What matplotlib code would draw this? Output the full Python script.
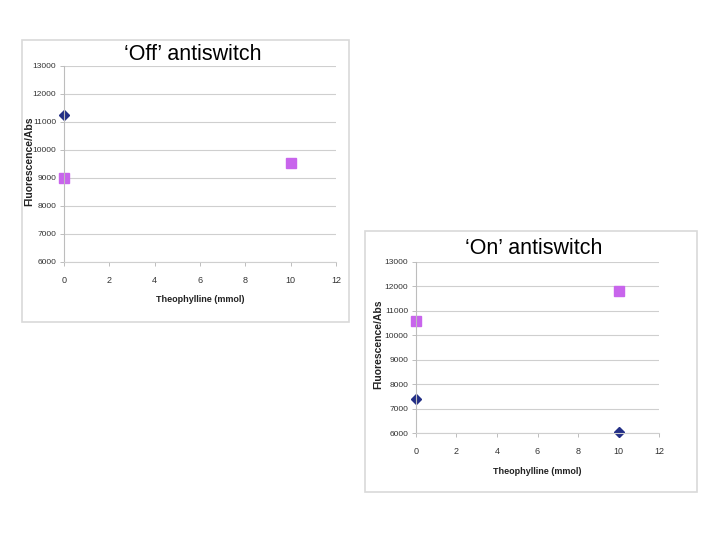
import matplotlib
matplotlib.use("Agg")
import matplotlib.pyplot as plt
from matplotlib.patches import Rectangle

plt.rcParams['font.family'] = ['Liberation Sans', 'DejaVu Sans']

# Data
x_vals = [0, 10]
off_series1 = [11250, None]      # blue diamonds
off_series2 = [9000, 9550]       # violet squares
on_series1 = [7400, 6050]        # blue diamonds
on_series2 = [10600, 11800]      # violet squares
x_ticks = [0, 2, 4, 6, 8, 10, 12]
y_ticks = [6000, 7000, 8000, 9000, 10000, 11000, 12000, 13000]
titles = ["\u2018Off\u2019 antiswitch", "\u2018On\u2019 antiswitch"]
x_label = "Theophylline (mmol)"
y_label = "Fluorescence/Abs"

W, H = 720, 540
fig = plt.figure(figsize=(7.2, 5.4), dpi=100)

def fx(px):
    return px / W

def fy(py):
    return 1 - py / H

navy = "#232f86"
violet = "#c865ec"

def panel(box, axbox, s1, s2, title, title_xy, ylab_x, xlab_y):
    bx0, by0, bx1, by1 = box
    fig.patches.append(Rectangle((fx(bx0), fy(by1)), fx(bx1 - bx0), (by1 - by0) / H,
                                 transform=fig.transFigure, fill=False,
                                 edgecolor="#d9d9d9", linewidth=1.2))
    ax0, ay0, ax1, ay1 = axbox
    ax = fig.add_axes([fx(ax0), fy(ay1), fx(ax1 - ax0), (ay1 - ay0) / H])
    ax.set_xlim(0, 12)
    ax.set_ylim(6000, 13000)
    ax.set_xticks(x_ticks)
    ax.set_yticks(y_ticks)
    ax.grid(axis='y', color="#cfcfcf", linewidth=0.8)
    ax.set_axisbelow(True)
    for s in ['top', 'right']:
        ax.spines[s].set_visible(False)
    ax.spines['left'].set_color("#bdbdbd")
    ax.spines['bottom'].set_color("#cfcfcf")
    ax.tick_params(axis='both', colors="#bdbdbd", labelcolor="#333333",
                   length=3, width=0.7)
    ax.tick_params(axis='y', labelsize=6, pad=2.5)
    ax.tick_params(axis='x', labelsize=6.5, pad=7)
    xs1 = [x for x, v in zip(x_vals, s1) if v is not None]
    ys1 = [v for v in s1 if v is not None]
    ax.plot(xs1, ys1, linestyle='none', marker='D', markersize=5, color=navy, clip_on=False)
    ax.plot(x_vals, s2, linestyle='none', marker='s', markersize=6.5, color=violet, clip_on=False)
    fig.text(fx(title_xy[0]), fy(title_xy[1]), title, ha='center', va='center',
             fontsize=15.5, color='black')
    fig.text(fx(ylab_x), fy((ay0 + ay1) / 2 - 3), y_label, rotation=90, ha='center', va='center',
             fontsize=7.5, fontweight='bold', color='#222222')
    fig.text(fx((ax0 + ax1) / 2), fy(xlab_y), x_label, ha='center', va='center',
             fontsize=6.5, fontweight='bold', color='#222222')
    return ax

panel((22, 40, 349, 322), (64, 66, 336, 262), off_series1, off_series2,
      titles[0], (193, 55), 29.5, 300)
panel((365, 231, 697, 492), (416, 262, 659, 433), on_series1, on_series2,
      titles[1], (534, 248), 378, 471)

fig.savefig("out.png", dpi=100)
